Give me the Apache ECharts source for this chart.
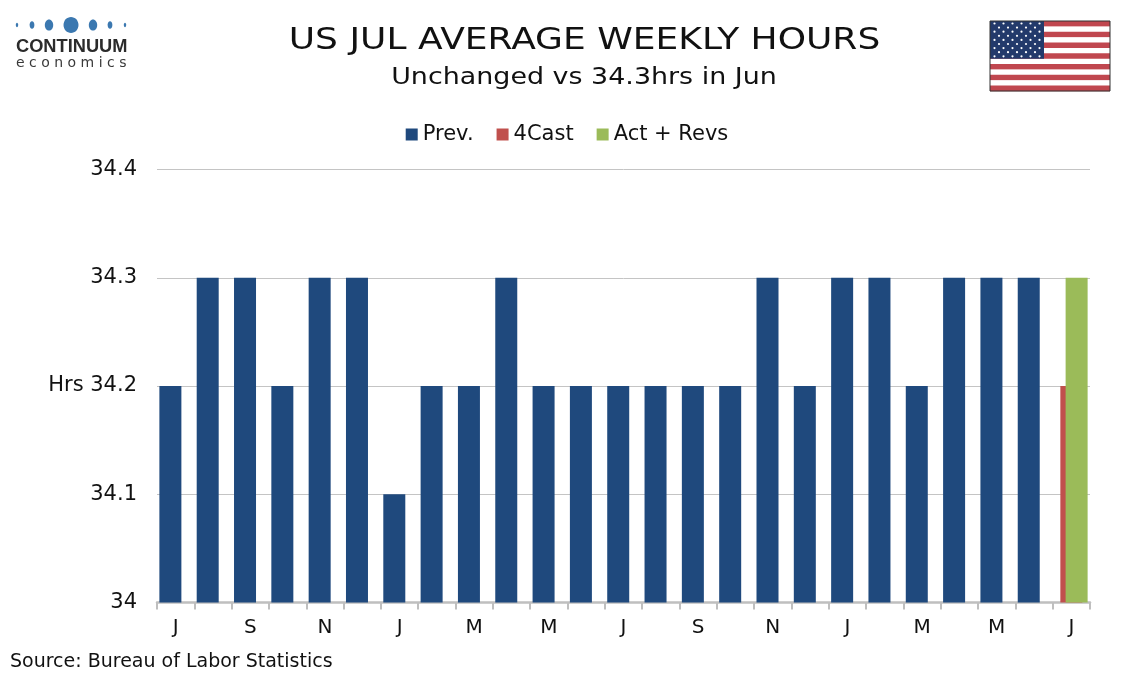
<!DOCTYPE html>
<html>
<head>
<meta charset="utf-8">
<script src="https://cdn.jsdelivr.net/npm/echarts@6/dist/echarts.min.js"></script>
<style>
html,body{margin:0;padding:0;background:#fff;}
#chart{width:1134px;height:680px;}
</style>
</head>
<body>
<div id="chart"></div>
<script>
// Months Jul 2023 .. Jul 2025
const categories = ['J','A','S','O','N','D','J','F','M','A','M','J','J','A','S','O','N','D','J','F','M','A','M','J','J'];
const prevValues = [34.2,34.3,34.3,34.2,34.3,34.3,34.1,34.2,34.2,34.3,34.2,34.2,34.2,34.2,34.2,34.2,34.3,34.2,34.3,34.3,34.2,34.3,34.3,34.3,null];
const forecastValues = [null,null,null,null,null,null,null,null,null,null,null,null,null,null,null,null,null,null,null,null,null,null,null,null,34.2];
const actualValues = [null,null,null,null,null,null,null,null,null,null,null,null,null,null,null,null,null,null,null,null,null,null,null,null,34.3];
const yTicks = [34, 34.1, 34.2, 34.3, 34.4];

const FONT = 'DejaVu Sans';
const chart = echarts.init(document.getElementById('chart'));

// Decorative logo and flag
const graphics = [];
const dots = [[17,1.2,2.2],[32,2.4,3.8],[49,4.2,5.6],[71,7.5,8],[93,4.2,5.6],[110,2.4,3.8],[125,1.2,2.2]];
dots.forEach(d => graphics.push({type:'ellipse', shape:{cx:d[0], cy:25, rx:d[1], ry:d[2]}, style:{fill:'#3b78b0'}}));
graphics.push({type:'text', x:16, y:37, scaleX:0.96, style:{text:'CONTINUUM', font:'bold 19px "Liberation Sans", Arial, sans-serif', fill:'#2b2b2b'}});
graphics.push({type:'text', x:16, y:56, style:{text:'e c o n o m i c s', font:'14px "DejaVu Sans", sans-serif', fill:'#3a3a3a'}});

// Flag
const fx = 990, fy = 21, fw = 120, fh = 70;
const sh = fh / 13;
for (let i = 0; i < 13; i++) {
  graphics.push({type:'rect', shape:{x:fx, y:fy + i*sh, width:fw, height:sh+0.3}, style:{fill: i % 2 === 0 ? '#c0474f' : '#ffffff'}});
}
const cw = 54, ch = sh * 7;
graphics.push({type:'rect', shape:{x:fx, y:fy, width:cw, height:ch}, style:{fill:'#233a6b'}});
for (let r = 0; r < 9; r++) {
  const n = r % 2 === 0 ? 6 : 5;
  for (let c = 0; c < n; c++) {
    const sx = fx + 4.5 + (r % 2 === 0 ? c*9 : 4.5 + c*9);
    const sy = fy + 2.5 + r*4.1;
    graphics.push({type:'circle', shape:{cx:sx, cy:sy, r:1.1}, style:{fill:'#ffffff'}});
  }
}
graphics.push({type:'rect', shape:{x:fx, y:fy, width:fw, height:fh}, style:{fill:'none', stroke:'#333', lineWidth:1}});

// Title & subtitle (stretched horizontally to match the reference's wide face)
graphics.push({type:'text', x:584.5, y:41, scaleX:1.2, originX:0, originY:0, style:{text:'US JUL AVERAGE WEEKLY HOURS', font:'30px "DejaVu Sans", sans-serif', fill:'#111', textAlign:'center', textVerticalAlign:'middle'}});
graphics.push({type:'text', x:584, y:78, scaleX:1.17, originX:0, originY:0, style:{text:'Unchanged vs 34.3hrs in Jun', font:'23px "DejaVu Sans", sans-serif', fill:'#111', textAlign:'center', textVerticalAlign:'middle'}});
graphics.push({type:'text', x:10, y:653, style:{text:'Source: Bureau of Labor Statistics', font:'19px "DejaVu Sans", sans-serif', fill:'#111'}});

const option = {
  animation: false,
  backgroundColor: '#ffffff',
  textStyle: {fontFamily: FONT},
  legend: {
    top: 119, left: 'center',
    itemWidth: 12, itemHeight: 12, itemGap: 23,
    icon: 'rect',
    textStyle: {fontFamily: FONT, fontSize: 21, color: '#111'},
    data: ['Prev.', '4Cast', 'Act + Revs']
  },
  grid: {left: 157, right: 44, top: 169.5, bottom: 77.5, containLabel: false},
  xAxis: {
    type: 'category',
    data: categories,
    boundaryGap: true,
    axisLine: {show: true, lineStyle: {color: '#bfbfbf', width: 2.5}},
    axisTick: {show: true, interval: 0, length: 7, lineStyle: {color: '#bfbfbf', width: 2}},
    axisLabel: {interval: 1, margin: 15, fontFamily: FONT, fontSize: 20, color: '#111'}
  },
  yAxis: {
    type: 'value',
    min: yTicks[0], max: yTicks[yTicks.length-1], interval: 0.1,
    axisLine: {show: false},
    axisTick: {show: false},
    splitLine: {lineStyle: {color: '#c4c4c4', width: 1}},
    axisLabel: {
      margin: 20, fontFamily: FONT, fontSize: 21, color: '#111',
      formatter: v => {
        const s = (Math.round(v*10)/10).toString();
        return Math.abs(v - 34.2) < 1e-6 ? 'Hrs ' + s : s;
      }
    }
  },
  series: [
    {name: 'Prev.', type: 'bar', data: prevValues, barWidth: 22, barGap: '-76%', itemStyle: {color: '#1f497d'}},
    {name: '4Cast', type: 'bar', data: forecastValues, barWidth: 22, barGap: '-76%', itemStyle: {color: '#c0504d'}},
    {name: 'Act + Revs', type: 'bar', data: actualValues, barWidth: 22, barGap: '-76%', itemStyle: {color: '#9bbb59'}}
  ],
  graphic: graphics
};
chart.setOption(option);
</script>
</body>
</html>
